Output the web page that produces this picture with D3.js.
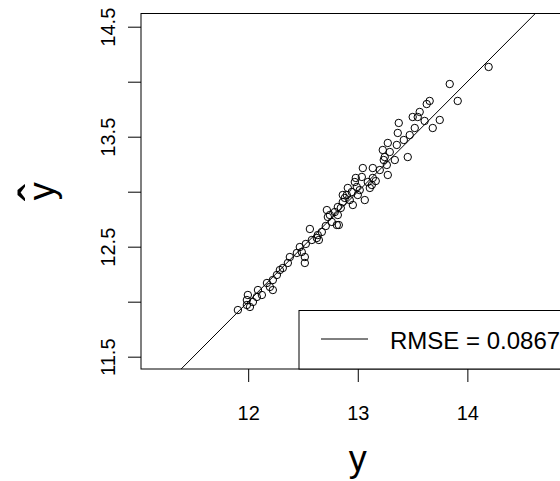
<!DOCTYPE HTML>
<html lang="en">
  <head>
    <meta http-equiv="content-type" content="text/html; charset=utf-8"/>
    <title>Observed vs fitted</title>
    <script type="text/javascript" src="https://d3js.org/d3.v7.min.js"></script>
  </head>

  <!-- ============================================= -->
  <!-- CSS                                           -->
  <!-- ============================================= -->
  <style type="text/css">
    body {
      margin: 0;
      background: #fff;
    }

    text {
      font-family: "Liberation Sans", Arial, sans-serif;
      fill: #000;
    }

    .pt {
      fill: none;
      stroke: #000;
      stroke-width: 1px;
    }

    .diag {
      stroke: #000;
      stroke-width: 1px;
    }
  </style>

  <body>
    <div id="chart"></div>

    <script>
      // observed y and fitted y-hat
      var yObs = [14.194, 13.839, 13.912, 13.656, 13.629, 13.565, 13.501, 13.547, 13.610, 13.748,
                  13.684, 13.374, 13.365, 13.474, 13.456, 13.356, 13.274, 13.228, 13.246, 13.274,
                  13.265, 13.237, 13.137, 13.046, 13.128, 13.137, 13.164, 12.973, 12.982, 12.991,
                  12.909, 12.900, 12.945, 13.064, 12.955, 12.863, 12.818, 12.718, 12.727, 12.809,
                  12.563, 12.763, 12.827, 12.626, 12.635, 12.645, 12.471, 12.489, 12.517, 12.517,
                  12.444, 12.380, 12.362, 12.289, 12.262, 12.225, 12.198, 12.225, 12.125, 12.079,
                  11.997, 11.988, 12.016, 11.988, 11.906, 12.672, 12.708, 12.745, 12.790, 12.845,
                  12.882, 12.927, 13.000, 13.018, 13.091, 13.110, 13.201, 13.292, 13.338, 13.420,
                  13.520, 12.581, 12.526, 12.316, 12.171, 12.089, 12.043, 12.863, 13.037, 12.818];

      var yHat = [14.134, 13.979, 13.825, 13.825, 13.797, 13.725, 13.679, 13.679, 13.643, 13.652,
                  13.579, 13.625, 13.534, 13.515, 13.315, 13.425, 13.443, 13.379, 13.315, 13.152,
                  13.243, 13.288, 13.215, 13.215, 13.061, 13.125, 13.097, 13.088, 13.125, 13.043,
                  13.034, 12.970, 12.997, 12.924, 12.879, 12.906, 12.861, 12.833, 12.770, 12.697,
                  12.661, 12.725, 12.697, 12.579, 12.606, 12.561, 12.497, 12.452, 12.406, 12.352,
                  12.443, 12.406, 12.352, 12.288, 12.243, 12.197, 12.134, 12.106, 12.061, 12.043,
                  12.061, 12.015, 11.952, 11.970, 11.924, 12.634, 12.688, 12.788, 12.815, 12.852,
                  12.943, 12.924, 12.970, 13.015, 13.088, 13.034, 13.197, 13.361, 13.288, 13.470,
                  13.579, 12.561, 12.525, 12.306, 12.170, 12.106, 11.997, 12.970, 13.134, 12.788];

      var xTicks = [12, 13, 14];
      var yTicks = [11.5, 12, 12.5, 13, 13.5, 14, 14.5];
      var yTickLabels = ["11.5", "", "12.5", "", "13.5", "", "14.5"];
      var legendLabel = "RMSE = 0.0867";

      var W = 560, H = 481;
      // plot region; the right side runs past the window like the original
      var pLeft = 141, pTop = 13.5, pBottom = 369, pRight = 566;

      var x = d3.scaleLinear().domain([11.022, 14.9]).range([pLeft, pRight]);
      var y = d3.scaleLinear().domain([11.388, 14.62]).range([pBottom, pTop]);

      var svg = d3.select("#chart")
        .append("svg")
          .attr("width", W)
          .attr("height", H);

      svg.append("clipPath")
          .attr("id", "clip")
        .append("rect")
          .attr("x", pLeft)
          .attr("y", pTop)
          .attr("width", pRight - pLeft)
          .attr("height", pBottom - pTop);

      // y = x reference line
      svg.append("line")
        .attr("class", "diag")
        .attr("clip-path", "url(#clip)")
        .attr("x1", x(11.0)).attr("y1", y(11.0))
        .attr("x2", x(15.0)).attr("y2", y(15.0));

      svg.selectAll(".pt")
          .data(yObs)
        .enter().append("circle")
          .attr("class", "pt")
          .attr("cx", function(d) { return x(d); })
          .attr("cy", function(d, i) { return y(yHat[i]); })
          .attr("r", 3.7);

      // axes
      var gx = svg.append("g")
        .attr("transform", "translate(0," + pBottom + ")")
        .call(d3.axisBottom(x).tickValues(xTicks).tickSize(13).tickPadding(24)
          .tickFormat(d3.format("d")));
      gx.select(".domain").remove();
      gx.selectAll("text").style("font-size", "20px");

      var gy = svg.append("g")
        .attr("transform", "translate(" + pLeft + ",0)")
        .call(d3.axisLeft(y).tickValues(yTicks).tickSize(13)
          .tickFormat(function(d, i) { return yTickLabels[i]; }));
      gy.select(".domain").remove();
      gy.selectAll("text")
        .attr("x", null).attr("dy", null)
        .attr("text-anchor", "middle")
        .attr("transform", "translate(-26,0) rotate(-90)")
        .style("font-size", "20px");

      // box (left, top, bottom edges show)
      svg.append("rect")
        .attr("x", pLeft).attr("y", pTop)
        .attr("width", pRight - pLeft).attr("height", pBottom - pTop)
        .attr("fill", "none").attr("stroke", "#000");

      // legend
      var lg = svg.append("g");
      lg.append("rect")
        .attr("x", 299).attr("y", 310.5)
        .attr("width", pRight - 299).attr("height", pBottom - 310.5)
        .attr("fill", "#fff").attr("stroke", "#000");
      lg.append("line")
        .attr("x1", 321).attr("x2", 368)
        .attr("y1", 339).attr("y2", 339)
        .attr("stroke", "#000");
      lg.append("text")
        .attr("x", 390).attr("y", 349)
        .style("font-size", "24px")
        .text(legendLabel);

      // axis titles
      svg.append("text")
        .attr("x", x(13)).attr("y", 471)
        .attr("text-anchor", "middle")
        .style("font-size", "36px")
        .text("y");

      // y-hat: hat set apart from the y, as R's plotmath draws it
      var midY = (pTop + pBottom) / 2;
      svg.append("text")
        .attr("transform", "translate(54," + midY + ") rotate(-90)")
        .attr("text-anchor", "middle")
        .style("font-size", "36px")
        .text("y");
      svg.append("text")
        .attr("transform", "translate(56," + (midY + 1) + ") rotate(-90)")
        .attr("text-anchor", "middle")
        .style("font-size", "52px")
        .text("\u02C6");
    </script>
  </body>
</html>
